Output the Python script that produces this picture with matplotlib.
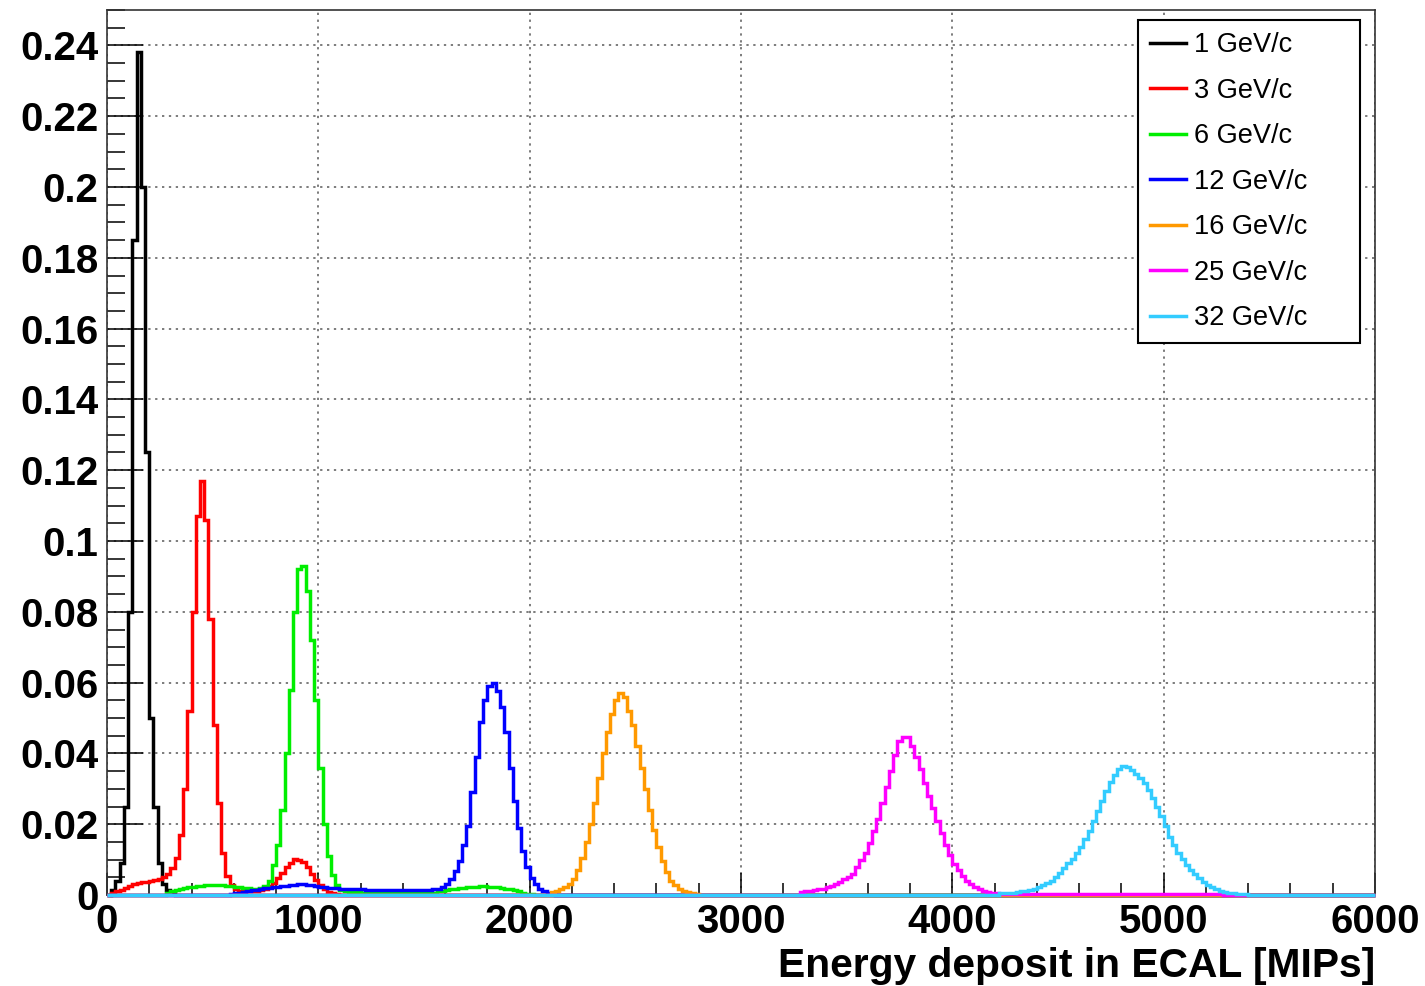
import numpy as np
import matplotlib
matplotlib.use("Agg")
import matplotlib.pyplot as plt
from matplotlib.ticker import MultipleLocator, FuncFormatter

# --- binning (MIPs) ---
BIN_WIDTH = 20
X_MAX = 6000

labels = ["1 GeV/c", "3 GeV/c", "6 GeV/c", "12 GeV/c", "16 GeV/c", "25 GeV/c", "32 GeV/c"]
colors = ["#000000", "#ff0000", "#00ee00", "#0000ff", "#ff9900", "#ff00ff", "#33ccff"]

# normalised bin contents; each list starts at the given lower edge
e1_start = 0
e1_vals = [0.0, 0.0015, 0.004, 0.009, 0.025, 0.08, 0.185, 0.238, 0.2, 0.125,
           0.05, 0.025, 0.009, 0.003, 0.0015, 0.0008]

e3_start = 0
e3_vals = [0.0, 0.0005, 0.001, 0.0015, 0.002, 0.0025, 0.003, 0.0033, 0.0036, 0.0038,
           0.004, 0.0042, 0.0045, 0.005, 0.006, 0.0075, 0.0105, 0.017, 0.03, 0.052,
           0.08, 0.107, 0.117, 0.106, 0.078, 0.048, 0.026, 0.012, 0.0055, 0.0028,
           0.0016, 0.0012, 0.001, 0.001, 0.001, 0.0011, 0.0013, 0.0017, 0.0025, 0.0035,
           0.0048, 0.0063, 0.0078, 0.009, 0.0101, 0.01, 0.0092, 0.0078, 0.006, 0.0042,
           0.0027, 0.0016, 0.0009, 0.0005, 0.0003]

e6_start = 280
e6_vals = [0.0005, 0.001, 0.0014, 0.0018, 0.002, 0.0022, 0.0024, 0.0025, 0.0026, 0.0027,
           0.0028, 0.0028, 0.0028, 0.0027, 0.0026, 0.0025, 0.0023, 0.0022, 0.002, 0.0019,
           0.0018, 0.0018, 0.002, 0.0025, 0.004, 0.0085, 0.014, 0.024, 0.04, 0.058,
           0.08, 0.092, 0.093, 0.086, 0.072, 0.055, 0.036, 0.02, 0.011, 0.0057,
           0.0028, 0.0015, 0.001, 0.0008, 0.0008, 0.0008, 0.0007, 0.0007, 0.0007, 0.0007,
           0.0007, 0.0007, 0.0007, 0.0007, 0.0007, 0.0007, 0.0007, 0.0007, 0.0007, 0.0007,
           0.0007, 0.0007, 0.0007, 0.0007, 0.001, 0.0012, 0.0014, 0.0016, 0.0018, 0.002,
           0.0021, 0.0022, 0.0023, 0.0024, 0.0025, 0.0025, 0.0024, 0.0023, 0.0022, 0.002,
           0.0018, 0.0016, 0.0013, 0.001, 0.0007, 0.0004, 0.0002]

e12_start = 580
e12_vals = [0.0003, 0.0005, 0.0007, 0.0009, 0.0011, 0.0013, 0.0015, 0.0017, 0.0019, 0.0021,
            0.0023, 0.0024, 0.0025, 0.0026, 0.0027, 0.0029, 0.003, 0.003, 0.0029, 0.0027,
            0.0025, 0.0023, 0.0022, 0.0021, 0.002, 0.0019, 0.0018, 0.0018, 0.0017, 0.0017,
            0.0016, 0.0016, 0.0015, 0.0015, 0.0015, 0.0014, 0.0014, 0.0014, 0.0013, 0.0013,
            0.0013, 0.0013, 0.0013, 0.0013, 0.0013, 0.0014, 0.0014, 0.0015, 0.0016, 0.0018,
            0.0022, 0.0032, 0.0045, 0.0068, 0.0095, 0.014, 0.0195, 0.029, 0.039, 0.049,
            0.055, 0.059, 0.06, 0.0575, 0.053, 0.046, 0.036, 0.0265, 0.019, 0.0125,
            0.008, 0.0048, 0.003, 0.0018, 0.001, 0.0006, 0.0003]

e16_start = 2100
e16_vals = [0.0008, 0.0012, 0.0017, 0.0022, 0.003, 0.0045, 0.0072, 0.0105, 0.015, 0.02,
            0.026, 0.033, 0.04, 0.046, 0.051, 0.055, 0.057, 0.056, 0.052, 0.048,
            0.042, 0.036, 0.03, 0.024, 0.0185, 0.0135, 0.0095, 0.0065, 0.004, 0.0028,
            0.0018, 0.0012, 0.0008, 0.0005, 0.0003]

e25_start = 3280
e25_vals = [0.0008, 0.001, 0.0012, 0.0014, 0.0016, 0.0018, 0.0022, 0.0026, 0.003, 0.0036,
            0.0044, 0.0052, 0.006, 0.0078, 0.0098, 0.012, 0.0148, 0.018, 0.0215, 0.026,
            0.0305, 0.035, 0.0395, 0.0435, 0.0447, 0.0445, 0.042, 0.039, 0.0355, 0.0315,
            0.028, 0.0245, 0.021, 0.0175, 0.0142, 0.0112, 0.0088, 0.007, 0.0053, 0.004,
            0.003, 0.0022, 0.0016, 0.0012, 0.0009, 0.0007, 0.0005, 0.0004, 0.0004, 0.0004,
            0.0004, 0.0004, 0.0004, 0.0004, 0.0004, 0.0004, 0.0004, 0.0004, 0.0004, 0.0004,
            0.0004, 0.0004, 0.0004, 0.0004, 0.0004, 0.0004, 0.0004, 0.0004, 0.0004, 0.0004,
            0.0004, 0.0004, 0.0004, 0.0004, 0.0004, 0.0004, 0.0004, 0.0004, 0.0004, 0.0004,
            0.0004, 0.0004, 0.0004, 0.0004, 0.0004, 0.0004, 0.0004, 0.0004, 0.0004, 0.0004,
            0.0004, 0.0004, 0.0004, 0.0004, 0.0004, 0.0004, 0.0004, 0.0004, 0.0003, 0.0002]

e32_start = 4220
e32_vals = [0.0005, 0.0005, 0.0006, 0.0007, 0.0008, 0.001, 0.0012, 0.0015, 0.0018, 0.0022,
            0.0027, 0.0033, 0.004, 0.005, 0.0062, 0.0075, 0.009, 0.0103, 0.0118, 0.0136,
            0.0158, 0.018, 0.021, 0.0238, 0.0265, 0.0295, 0.032, 0.034, 0.0355, 0.0365,
            0.0362, 0.0353, 0.0343, 0.033, 0.0315, 0.0298, 0.0275, 0.025, 0.0222, 0.0195,
            0.0165, 0.0142, 0.012, 0.0102, 0.0085, 0.0072, 0.006, 0.0047, 0.0037, 0.0028,
            0.0022, 0.0016, 0.0012, 0.0009, 0.0007, 0.0005, 0.0004, 0.0003, 0.0002]

series = [(e1_start, e1_vals), (e3_start, e3_vals), (e6_start, e6_vals), (e12_start, e12_vals),
          (e16_start, e16_vals), (e25_start, e25_vals), (e32_start, e32_vals)]

edges = np.arange(0, X_MAX + BIN_WIDTH, BIN_WIDTH)


def full_hist(start, vals):
    h = np.zeros(len(edges) - 1)
    i0 = start // BIN_WIDTH
    h[i0:i0 + len(vals)] = vals
    return h


plt.rcParams["font.family"] = ["Liberation Sans", "DejaVu Sans"]

fig = plt.figure(figsize=(14.25, 9.86), dpi=100)
ax = fig.add_axes([107 / 1425, 91 / 986, 1268 / 1425, 885 / 986])

for (start, vals), col, lab in zip(series, colors, labels):
    ax.stairs(full_hist(start, vals), edges, color=col, lw=2.5, label=lab,
              baseline=None, clip_on=False, zorder=3)

ax.set_xlim(0, X_MAX)
ax.set_ylim(0, 0.25)

ax.xaxis.set_major_locator(MultipleLocator(1000))
ax.xaxis.set_minor_locator(MultipleLocator(200))
ax.yaxis.set_major_locator(MultipleLocator(0.02))
ax.yaxis.set_minor_locator(MultipleLocator(0.005))
ax.yaxis.set_major_formatter(FuncFormatter(lambda v, p: "%g" % round(v, 3)))

ax.grid(True, which="major", color="0.35", linestyle=(0, (1.5, 3)), lw=1.1, zorder=1)
ax.tick_params(axis="both", which="both", direction="in", width=1.1, colors="black",
               labelsize=29)
ax.tick_params(axis="y", which="major", length=26, pad=6)
ax.tick_params(axis="y", which="minor", length=13)
ax.tick_params(axis="x", which="major", length=16, pad=6)
ax.tick_params(axis="x", which="minor", length=8.5)
for lab in ax.get_xticklabels() + ax.get_yticklabels():
    lab.set_fontweight("bold")

for sp in ax.spines.values():
    sp.set_linewidth(1.2)
    sp.set_color("0.2")

ax.text(1.0, -0.0925, "Energy deposit in ECAL [MIPs]", transform=ax.transAxes,
        ha="right", va="baseline", fontsize=29.3, fontweight="bold")

# legend box as in the original: 1138..1360 px wide, top at 20 px
leg_x0 = (1138 - 107) / 1268
leg_w = (1360 - 1138) / 1268
leg_top = (895 - 20) / 885
leg = ax.legend(loc="upper left", bbox_to_anchor=(leg_x0, leg_top - 0.4, leg_w, 0.4),
                mode="expand", borderaxespad=0, fontsize=19.5, handlelength=1.33,
                handletextpad=0.3, labelspacing=0.72, borderpad=0.45,
                fancybox=False, framealpha=1, edgecolor="black")
leg.get_frame().set_linewidth(1.5)
for line in leg.get_lines():
    line.set_linewidth(2.5)

fig.savefig("out.png", dpi=100)
